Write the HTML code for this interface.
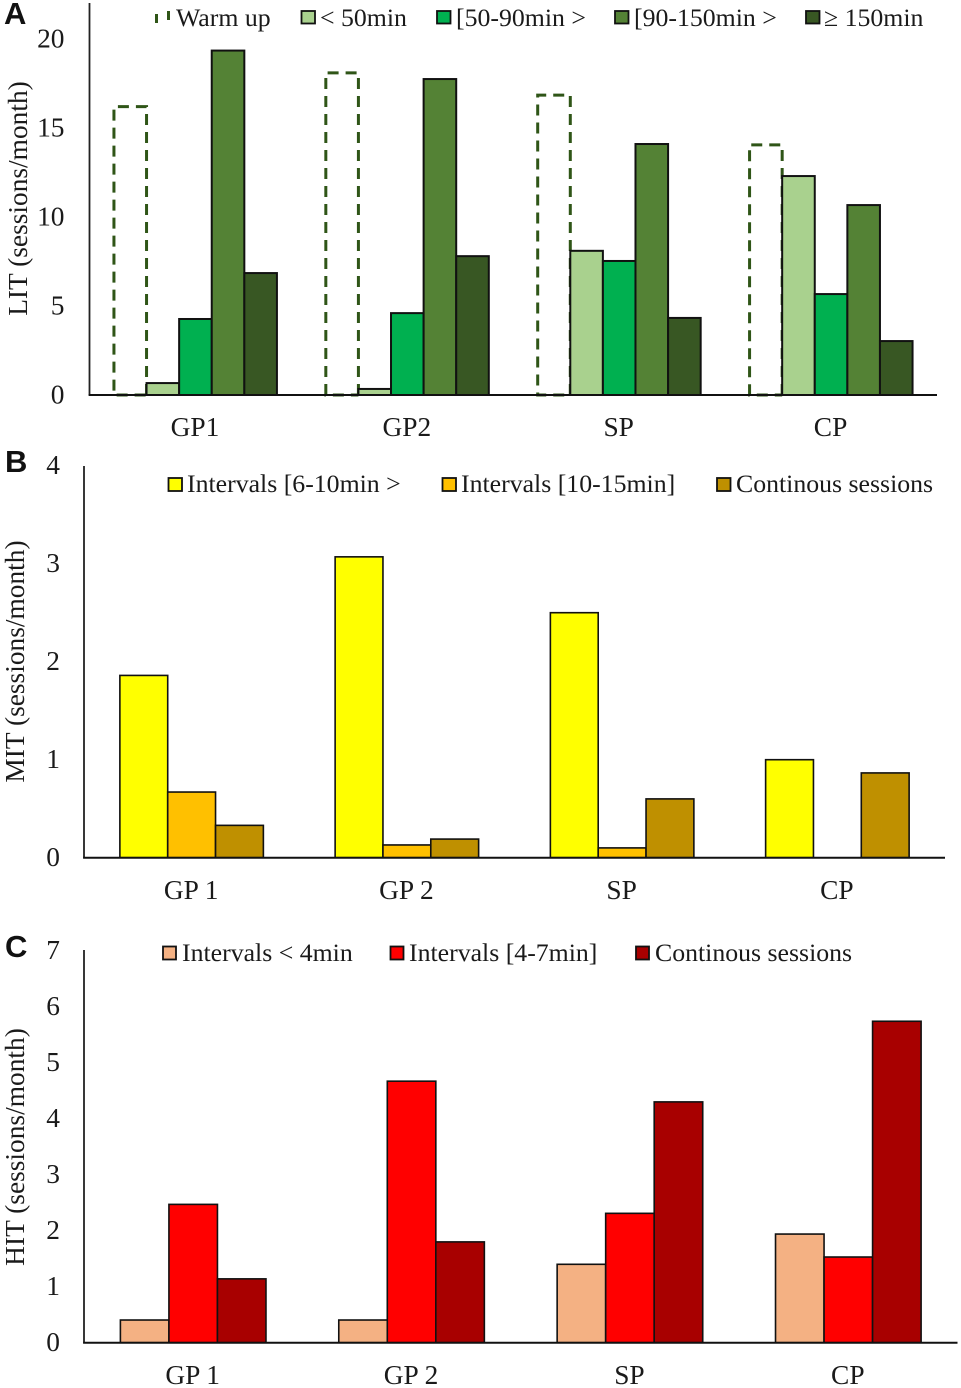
<!DOCTYPE html>
<html lang="en">
<head>
<meta charset="utf-8">
<title>Training session distribution charts</title>
<style>
html,body{margin:0;padding:0;background:#fff;}
svg{display:block;}
text{font-family:"Liberation Serif",serif;fill:#1a1a1a;}
.tick,.cat{font-size:27.4px;}
.title{font-size:27.4px;}
.legend-text{font-size:25.8px;}
.panel-letter{font-family:"Liberation Sans",sans-serif;font-weight:bold;font-size:31px;fill:#111;}
</style>
</head>
<body>
<svg id="figure" xmlns="http://www.w3.org/2000/svg" width="961" height="1388" viewBox="0 0 961 1388">
  <rect x="0" y="0" width="961" height="1388" fill="#ffffff"/>

  <text class="panel-letter" x="4" y="24">A</text>
  <text class="panel-letter" x="5" y="472">B</text>
  <text class="panel-letter" x="5" y="957">C</text>

  <text class="title" transform="translate(27 198.5) rotate(-90)" text-anchor="middle">LIT (sessions/month)</text>
  <text class="title" transform="translate(24 661.5) rotate(-90)" text-anchor="middle">MIT (sessions/month)</text>
  <text class="title" transform="translate(24 1147) rotate(-90)" text-anchor="middle">HIT (sessions/month)</text>

  <g id="plots"></g>

  <g>
    <g>
      <path d="M156.5 23V11 M168.5 11V20" fill="none" stroke="#2f5517" stroke-width="3" stroke-dasharray="9 3"/>
      <text class="legend-text" x="176" y="26">Warm up</text>
    </g>
    <g>
      <rect x="301.5" y="11" width="13.5" height="12.5" fill="#a9d18e" stroke="#111" stroke-width="1.8"/>
      <text class="legend-text" x="320" y="26">&lt; 50min</text>
    </g>
    <g>
      <rect x="437" y="11" width="13.5" height="12.5" fill="#00b050" stroke="#111" stroke-width="1.8"/>
      <text class="legend-text" x="456" y="26">[50-90min &gt;</text>
    </g>
    <g>
      <rect x="615" y="11" width="13.5" height="12.5" fill="#548235" stroke="#111" stroke-width="1.8"/>
      <text class="legend-text" x="634" y="26">[90-150min &gt;</text>
    </g>
    <g>
      <rect x="806" y="11" width="13.5" height="12.5" fill="#385723" stroke="#111" stroke-width="1.8"/>
      <text class="legend-text" x="824" y="26">≥ 150min</text>
    </g>
  </g>

  <g>
    <g>
      <rect x="168.5" y="478" width="13.5" height="13" fill="#ffff00" stroke="#111" stroke-width="1.8"/>
      <text class="legend-text" x="187" y="492">Intervals [6-10min &gt;</text>
    </g>
    <g>
      <rect x="442.5" y="478" width="13.5" height="13" fill="#ffc000" stroke="#111" stroke-width="1.8"/>
      <text class="legend-text" x="461" y="492">Intervals [10-15min]</text>
    </g>
    <g>
      <rect x="717" y="478" width="13.5" height="13" fill="#bf9000" stroke="#111" stroke-width="1.8"/>
      <text class="legend-text" x="736" y="492">Continous sessions</text>
    </g>
  </g>

  <g>
    <g>
      <rect x="163" y="946.5" width="13" height="13" fill="#f4b183" stroke="#111" stroke-width="1.8"/>
      <text class="legend-text" x="182" y="961">Intervals &lt; 4min</text>
    </g>
    <g>
      <rect x="390.5" y="946.5" width="13" height="13" fill="#ff0000" stroke="#111" stroke-width="1.8"/>
      <text class="legend-text" x="409" y="961">Intervals [4-7min]</text>
    </g>
    <g>
      <rect x="636" y="946.5" width="13" height="13" fill="#a80000" stroke="#111" stroke-width="1.8"/>
      <text class="legend-text" x="655" y="961">Continous sessions</text>
    </g>
  </g>
</svg>

<script>
// Panel A (LIT) data
const litCategories = ['GP1', 'GP2', 'SP', 'CP'];
const litTicks = [0, 5, 10, 15, 20];
const litWarmUp = [16.2, 18.1, 16.85, 14.05];
const litUnder50 = [0.67, 0.34, 8.1, 12.3];
const lit50to90 = [4.27, 4.6, 7.53, 5.67];
const lit90to150 = [19.35, 17.75, 14.1, 10.67];
const litOver150 = [6.85, 7.8, 4.33, 3.03];

// Panel B (MIT) data
const mitCategories = ['GP 1', 'GP 2', 'SP', 'CP'];
const mitTicks = [0, 1, 2, 3, 4];
const mitIntervals6to10 = [1.86, 3.07, 2.5, 1.0];
const mitIntervals10to15 = [0.67, 0.13, 0.1, 0];
const mitContinuous = [0.33, 0.19, 0.6, 0.865];

// Panel C (HIT) data
const hitCategories = ['GP 1', 'GP 2', 'SP', 'CP'];
const hitTicks = [0, 1, 2, 3, 4, 5, 6, 7];
const hitIntervalsUnder4 = [0.405, 0.405, 1.4, 1.94];
const hitIntervals4to7 = [2.47, 4.67, 2.31, 1.53];
const hitContinuous = [1.14, 1.8, 4.3, 5.74];

const SVG_NS = 'http://www.w3.org/2000/svg';
const plots = document.getElementById('plots');

function drawPanel(p) {
  const group = document.createElementNS(SVG_NS, 'g');
  
  
  plots.appendChild(group);

  const yScale = v => p.baseY - v * p.unit;
  const bandWidth = (p.right - p.left) / p.categories.length;
  const barWidth = bandWidth / (p.series.length + 1.5);
  const barX = (c, s) => p.left + bandWidth * c + (bandWidth - barWidth * p.series.length) / 2 + barWidth * s;

  // y tick labels
  p.ticks.forEach(t => {
    const el = document.createElementNS(SVG_NS, 'text');
    
    
    el.setAttribute('class', 'tick');
    el.setAttribute('x', p.tickX);
    el.setAttribute('y', yScale(t) + 8.5);
    el.setAttribute('text-anchor', 'end');
    el.textContent = t;
    group.appendChild(el);
  });

  // category labels
  p.categories.forEach((c, i) => {
    const el = document.createElementNS(SVG_NS, 'text');
    
    
    el.setAttribute('class', 'cat');
    el.setAttribute('x', p.left + bandWidth * (i + 0.5) - 0.5);
    el.setAttribute('y', p.catY);
    el.setAttribute('text-anchor', 'middle');
    el.textContent = c;
    group.appendChild(el);
  });

  // bars
  p.series.forEach((s, si) => {
    s.values.forEach((v, ci) => {
      const x = barX(ci, si);
      const top = yScale(v);
      if (v <= 0) return;
      if (s.dashed) {
        const el = document.createElementNS(SVG_NS, 'path');
        
        
        el.setAttribute('d', 'M' + (x + barWidth) + ' ' + p.baseY + 'V' + top + 'H' + x + 'V' + p.baseY + 'H' + (x + barWidth));
        el.setAttribute('fill', 'none');
        el.setAttribute('stroke', s.stroke);
        el.setAttribute('stroke-width', '3');
        el.setAttribute('stroke-dasharray', '11 7');
        group.appendChild(el);
      } else {
        const el = document.createElementNS(SVG_NS, 'rect');
        
        
        el.setAttribute('x', x);
        el.setAttribute('y', top);
        el.setAttribute('width', barWidth);
        el.setAttribute('height', p.baseY - top);
        el.setAttribute('fill', s.fill);
        el.setAttribute('stroke', '#111');
        el.setAttribute('stroke-width', p.barStroke);
        group.appendChild(el);
      }
    });
  });

  // axes
  const yAxis = document.createElementNS(SVG_NS, 'line');
  
  
  yAxis.setAttribute('x1', p.left);
  yAxis.setAttribute('x2', p.left);
  yAxis.setAttribute('y1', p.axisTop);
  yAxis.setAttribute('y2', p.baseY);
  yAxis.setAttribute('stroke', '#222');
  yAxis.setAttribute('stroke-width', '1.8');
  group.appendChild(yAxis);

  const xAxis = document.createElementNS(SVG_NS, 'line');
  
  
  xAxis.setAttribute('x1', p.left - 0.9);
  xAxis.setAttribute('x2', p.right);
  xAxis.setAttribute('y1', p.baseY);
  xAxis.setAttribute('y2', p.baseY);
  xAxis.setAttribute('stroke', '#111');
  xAxis.setAttribute('stroke-width', '2');
  group.appendChild(xAxis);
}

drawPanel({
  name: 'lit', categories: litCategories, ticks: litTicks,
  left: 89.5, right: 937, baseY: 395, unit: 17.8, axisTop: 3, tickX: 64.5, catY: 436, barStroke: 2,
  series: [
    { key: 'warm-up', values: litWarmUp, dashed: true, stroke: '#2f5517' },
    { key: 'under-50min', values: litUnder50, fill: '#a9d18e' },
    { key: '50-90min', values: lit50to90, fill: '#00b050' },
    { key: '90-150min', values: lit90to150, fill: '#548235' },
    { key: 'over-150min', values: litOver150, fill: '#385723' }
  ]
});

drawPanel({
  name: 'mit', categories: mitCategories, ticks: mitTicks,
  left: 84, right: 945, baseY: 857.7, unit: 98, axisTop: 466, tickX: 60, catY: 899, barStroke: 1.6,
  series: [
    { key: 'intervals-6-10min', values: mitIntervals6to10, fill: '#ffff00' },
    { key: 'intervals-10-15min', values: mitIntervals10to15, fill: '#ffc000' },
    { key: 'continuous', values: mitContinuous, fill: '#bf9000' }
  ]
});

drawPanel({
  name: 'hit', categories: hitCategories, ticks: hitTicks,
  left: 84, right: 957.5, baseY: 1342.7, unit: 56, axisTop: 950, tickX: 60, catY: 1384, barStroke: 1.6,
  series: [
    { key: 'intervals-under-4min', values: hitIntervalsUnder4, fill: '#f4b183' },
    { key: 'intervals-4-7min', values: hitIntervals4to7, fill: '#ff0000' },
    { key: 'continuous', values: hitContinuous, fill: '#a80000' }
  ]
});
</script>
</body>
</html>
